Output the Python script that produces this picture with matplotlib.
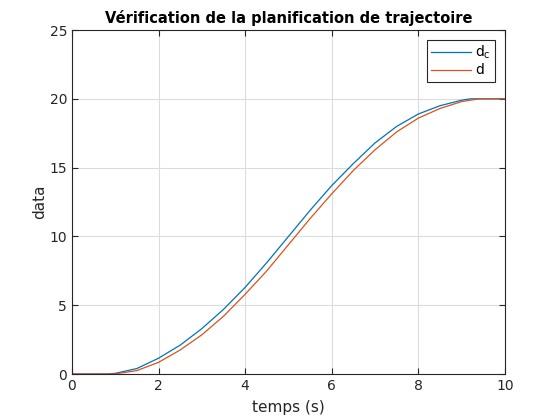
import matplotlib.pyplot as plt
import numpy as np

# values (time in s)
t_c = [0, 0.8, 1.0, 1.5, 2.0, 2.5, 3.0, 3.5, 4.0, 4.5, 5.0, 5.5, 6.0, 6.5,
       7.0, 7.5, 8.0, 8.5, 9.0, 9.2, 10]
d_c = [0, 0, 0.05, 0.4, 1.15, 2.1, 3.3, 4.7, 6.3, 8.1, 10.0, 11.9, 13.7, 15.3,
       16.8, 18.0, 18.9, 19.5, 19.9, 20.0, 20.0]

t_d = [0, 0.95, 1.0, 1.5, 2.0, 2.5, 3.0, 3.5, 4.0, 4.5, 5.0, 5.5, 6.0, 6.5,
       7.0, 7.5, 8.0, 8.5, 9.0, 9.4, 10]
d = [0, 0, 0.01, 0.25, 0.85, 1.75, 2.85, 4.2, 5.8, 7.5, 9.4, 11.3, 13.1, 14.8,
     16.3, 17.6, 18.6, 19.3, 19.8, 20.0, 20.0]

plt.rcParams['font.family'] = 'DejaVu Sans'
plt.rcParams['mathtext.fontset'] = 'dejavusans'
fig = plt.figure(figsize=(5.58, 4.2), dpi=100)
ax = fig.add_axes([0.129, 0.1095, 0.776, 0.819])

ax.plot(t_c, d_c, color='#0072BD', linewidth=0.9, label=r'$\mathregular{d_{c}}$')
ax.plot(t_d, d, color='#D95319', linewidth=0.9, label='d')

ax.set_xlim(0, 10)
ax.set_ylim(0, 25)
ax.set_xticks(np.arange(0, 11, 2))
ax.set_yticks(np.arange(0, 26, 5))
ax.grid(True, color='#dcdcdc', linewidth=0.8)
ax.set_axisbelow(True)
ax.tick_params(direction='in', top=True, right=True, labelsize=10,
               colors='#262626', length=4)
for s in ax.spines.values():
    s.set_color('#262626')
    s.set_linewidth(0.8)

ax.set_title("Vérification de la planification de trajectoire",
             fontsize=10.5, fontweight='bold', pad=5)
ax.set_xlabel("temps (s)", fontsize=11, color='#262626', labelpad=5)
ax.set_ylabel("data", fontsize=11, color='#262626', labelpad=2)

leg = ax.legend(loc='upper right', fontsize=10, fancybox=False,
                edgecolor='#262626', framealpha=1, handlelength=2.9,
                borderaxespad=0.7, labelspacing=0.15, handletextpad=0.3,
                borderpad=0.3)
leg.get_frame().set_linewidth(0.8)

plt.savefig("out.png", dpi=100)
